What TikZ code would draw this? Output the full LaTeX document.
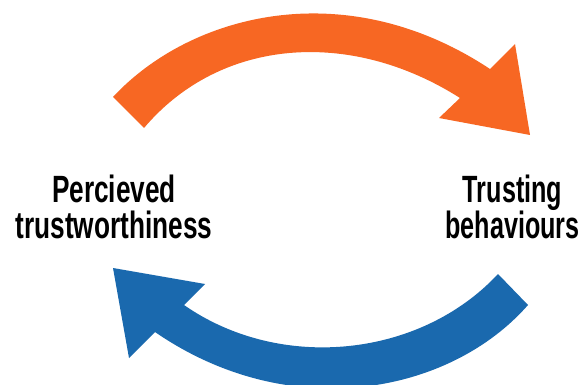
\documentclass[tikz,border=0pt]{standalone}
\usepackage{fontspec}
\setmainfont{Liberation Sans}
\definecolor{orangearc}{HTML}{F76723}
\definecolor{bluearc}{HTML}{1A69AE}
\tikzset{x=1pt,y=-1pt,
 lbl/.style={font=\bfseries\fontsize{38}{36}\selectfont,align=center,text=black,inner sep=0pt,xscale=0.69}}
\begin{document}
\begin{tikzpicture}
\useasboundingbox (0,0) rectangle (587,385);
\fill[white] (0,0) rectangle (587,385);
\clip (0,0) rectangle (587,385);
\fill[orangearc] (113,97) .. controls (190,14) and (345,-27) .. (490,69) -- (515,44) -- (530,135) -- (439,118) -- (460,98) .. controls (350,28) and (220,38) .. (144,128) -- cycle;
\fill[bluearc] (528,305) .. controls (450,394) and (290,425) .. (155,332) -- (129,358) -- (113,268) -- (205,284) -- (184,305) .. controls (280,372) and (420,358) .. (498,274) -- cycle;
\node[lbl] (perc) at (114,207) {Percieved\\trustworthiness};
\node[lbl,xscale=0.96] (trust) at (512.5,207) {Trusting\\behaviours};
\end{tikzpicture}
\end{document}
